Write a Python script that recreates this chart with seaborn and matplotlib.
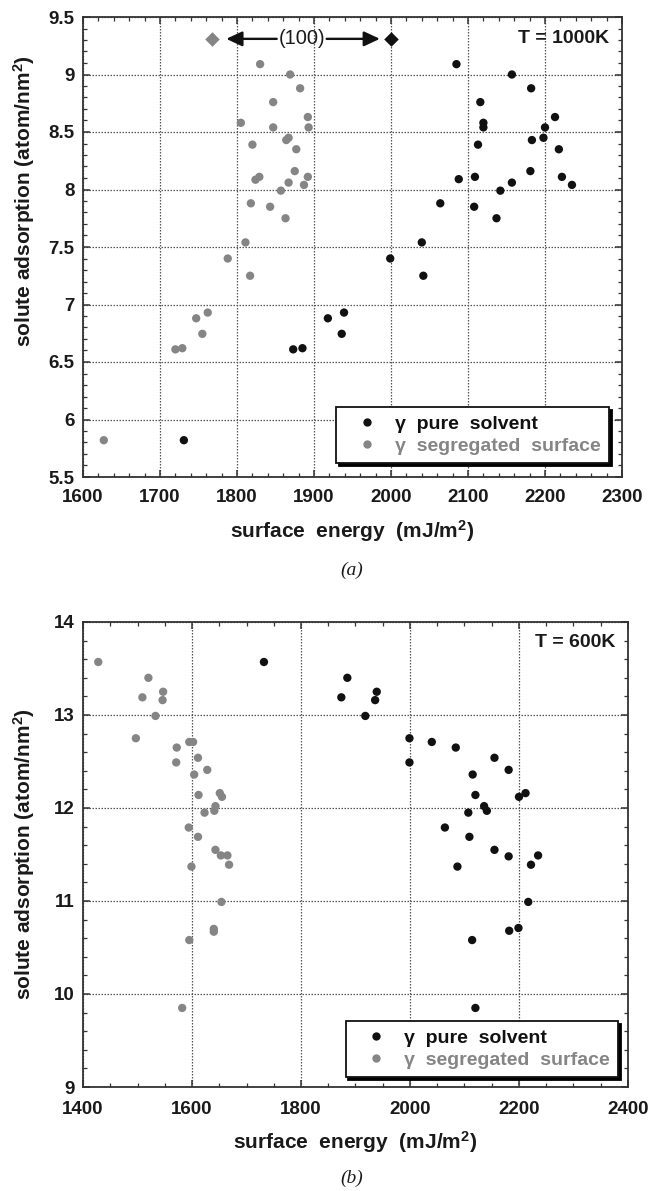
import numpy as np
import pandas as pd
import matplotlib
matplotlib.use("Agg")
import matplotlib.pyplot as plt
import seaborn as sns
from matplotlib.ticker import MultipleLocator, FormatStrFormatter

# ---------------- data ----------------
# panel (a) T = 1000K
a_gray_x = [1830, 1869, 1882, 1847, 1892, 1805, 1847, 1893, 1820, 1864, 1867, 1877, 1875, 1824, 1829,
            1892, 1867, 1887, 1857, 1818, 1843, 1863, 1811, 1788, 1817, 1747, 1762, 1755, 1720, 1729, 1627]
a_gray_y = [9.09, 9.00, 8.88, 8.76, 8.63, 8.58, 8.54, 8.54, 8.39, 8.43, 8.45, 8.35, 8.16, 8.085, 8.11,
            8.11, 8.06, 8.04, 7.99, 7.88, 7.85, 7.75, 7.54, 7.40, 7.25, 6.88, 6.93, 6.745, 6.61, 6.62, 5.82]
a_black_x = [2085, 2157, 2182, 2116, 2213, 2120, 2120, 2200, 2198, 2183, 2113, 2218, 2181, 2088, 2109,
             2222, 2157, 2235, 2142, 2064, 2108, 2137, 2040, 1999, 2042, 1918, 1939, 1936, 1873, 1885, 1731]
a_black_y = [9.09, 9.00, 8.88, 8.76, 8.63, 8.58, 8.54, 8.54, 8.45, 8.43, 8.39, 8.35, 8.16, 8.09, 8.11,
             8.11, 8.06, 8.04, 7.99, 7.88, 7.85, 7.75, 7.54, 7.40, 7.25, 6.88, 6.93, 6.745, 6.61, 6.62, 5.82]
# (100) orientation markers
a_diam_gray = (1768, 9.31)
a_diam_black = (2000, 9.31)

# panel (b) T = 600K
b_gray_x = [1428, 1520, 1547, 1509, 1546, 1533, 1497, 1595, 1602, 1572, 1611, 1571, 1628, 1604, 1651,
            1655, 1612, 1643, 1641, 1623, 1594, 1611, 1643, 1653, 1665, 1668, 1599, 1654, 1640, 1640, 1595, 1582]
b_gray_y = [13.57, 13.40, 13.25, 13.19, 13.16, 12.99, 12.75, 12.71, 12.71, 12.65, 12.54, 12.49, 12.41, 12.36, 12.16,
            12.12, 12.14, 12.02, 11.97, 11.95, 11.79, 11.69, 11.55, 11.49, 11.49, 11.39, 11.37, 10.99, 10.70, 10.67, 10.58, 9.85]
b_black_x = [1732, 1885, 1939, 1936, 1874, 1918, 1999, 2040, 2084, 2155, 1999, 2181, 2115, 2200, 2212,
             2120, 2136, 2141, 2107, 2064, 2109, 2155, 2181, 2235, 2222, 2087, 2217, 2182, 2199, 2114, 2120]
b_black_y = [13.57, 13.40, 13.25, 13.16, 13.19, 12.99, 12.75, 12.71, 12.65, 12.54, 12.49, 12.41, 12.36, 12.12, 12.16,
             12.14, 12.02, 11.97, 11.95, 11.79, 11.69, 11.55, 11.48, 11.49, 11.39, 11.37, 10.99, 10.68, 10.71, 10.58, 9.85]

series_labels = ["γ  pure  solvent", "γ  segregated  surface"]
xlabel = "surface  energy  (mJ/m$^2$)"
ylabel = "solute adsorption (atom/nm$^2$)"

# ---------------- style ----------------
sns.set_theme(style="ticks")
plt.rcParams["font.family"] = ["Liberation Sans", "DejaVu Sans"]
plt.rcParams["mathtext.fontset"] = "custom"
plt.rcParams["mathtext.rm"] = "Liberation Sans:bold"
plt.rcParams["mathtext.it"] = "Liberation Sans:bold"
plt.rcParams["mathtext.bf"] = "Liberation Sans:bold"

BLACK = "#111111"
GRAY = "#858585"
palette = {series_labels[0]: BLACK, series_labels[1]: GRAY}

fig = plt.figure(figsize=(6.58, 11.91), dpi=100)
fig.patch.set_facecolor("white")
ax1 = fig.add_axes([83 / 658, 1 - 477 / 1191, 539 / 658, 460 / 1191])
ax2 = fig.add_axes([83 / 658, 1 - 1087 / 1191, 545 / 658, 465 / 1191])


def make_df(bx, by, gx, gy):
    return pd.DataFrame({
        "energy": list(bx) + list(gx),
        "ads": list(by) + list(gy),
        "series": [series_labels[0]] * len(bx) + [series_labels[1]] * len(gx),
    })


def style_axis(ax, xlim, ylim, xmaj, xmin, ymaj, ymin, yfmt, xpad, ypad):
    ax.set_xlim(*xlim)
    ax.set_ylim(*ylim)
    ax.xaxis.set_major_locator(MultipleLocator(xmaj))
    ax.xaxis.set_minor_locator(MultipleLocator(xmin))
    ax.yaxis.set_major_locator(MultipleLocator(ymaj))
    ax.yaxis.set_minor_locator(MultipleLocator(ymin))
    ax.yaxis.set_major_formatter(FormatStrFormatter(yfmt))
    ax.tick_params(which="both", direction="in", top=True, right=True, colors="#333333",
                   labelcolor="#1a1a1a", labelsize=13.5)
    ax.tick_params(axis="x", which="major", length=5, width=1.1, pad=xpad)
    ax.tick_params(axis="y", which="major", length=5, width=1.1, pad=ypad)
    ax.tick_params(which="minor", length=3, width=0.9)
    for lab in ax.get_xticklabels() + ax.get_yticklabels():
        lab.set_fontweight("bold")
    for sp in ax.spines.values():
        sp.set_linewidth(1.3)
        sp.set_color("#333333")
    ax.grid(True, which="major", linestyle=(0, (1.2, 1.2)), color="#555555", linewidth=0.9)
    ax.set_axisbelow(True)
    ax.set_facecolor("white")


def add_legend(ax, anchor):
    h, l = ax.get_legend_handles_labels()
    leg = ax.legend(h, l, loc="lower right", bbox_to_anchor=anchor, borderaxespad=0,
                    frameon=True, fancybox=False, shadow={"color": "black", "alpha": 1.0},
                    prop={"weight": "bold", "size": 14}, labelcolor=[BLACK, GRAY],
                    handlelength=2.3, handletextpad=0.3, borderpad=0.42, labelspacing=0.22,
                    markerscale=1.0)
    leg.get_frame().set_edgecolor("#111111")
    leg.get_frame().set_linewidth(1.3)
    return leg


# ---------------- panel (a) ----------------
dfa = make_df(a_black_x, a_black_y, a_gray_x, a_gray_y)
sns.scatterplot(data=dfa, x="energy", y="ads", hue="series", palette=palette,
                hue_order=series_labels, s=36, linewidth=0, ax=ax1)
sns.scatterplot(x=[a_diam_gray[0]], y=[a_diam_gray[1]], color=GRAY, marker="D", s=55,
                linewidth=0, ax=ax1, legend=False)
sns.scatterplot(x=[a_diam_black[0]], y=[a_diam_black[1]], color=BLACK, marker="D", s=55,
                linewidth=0, ax=ax1, legend=False)
style_axis(ax1, (1600, 2300), (5.5, 9.5), 100, 20, 0.5, 0.1, "%g", 9, 6)
mid = (a_diam_gray[0] + a_diam_black[0]) / 2
ax1.text(mid, a_diam_gray[1], "(100)", ha="center", va="center", fontsize=14.5, color="#1a1a1a")
arrow_style = "-|>,head_length=0.6,head_width=0.28"
ax1.annotate("", xy=a_diam_gray, xytext=(mid, a_diam_gray[1]),
             arrowprops=dict(arrowstyle=arrow_style, color="#111111", lw=1.7,
                             shrinkA=18, shrinkB=10, mutation_scale=16))
ax1.annotate("", xy=a_diam_black, xytext=(mid, a_diam_black[1]),
             arrowprops=dict(arrowstyle=arrow_style, color="#111111", lw=1.7,
                             shrinkA=18, shrinkB=8, mutation_scale=16))
ax1.text(0.976, 0.953, "T = 1000K", transform=ax1.transAxes, ha="right", va="center",
         fontsize=14, fontweight="bold", color="#1a1a1a")
ax1.set_xlabel(xlabel, fontsize=15, fontweight="bold", color="#1a1a1a", labelpad=8)
ax1.set_ylabel(ylabel, fontsize=15, fontweight="bold", color="#1a1a1a")
ax1.yaxis.set_label_coords(-0.085, 0.60)
add_legend(ax1, (0.976, 0.030))
fig.text(352 / 658, 1 - 570 / 1191, "(a)", ha="center", va="center", fontsize=14,
         family="Liberation Serif", style="italic", color="#1a1a1a")

# ---------------- panel (b) ----------------
dfb = make_df(b_black_x, b_black_y, b_gray_x, b_gray_y)
sns.scatterplot(data=dfb, x="energy", y="ads", hue="series", palette=palette,
                hue_order=series_labels, s=36, linewidth=0, ax=ax2)
style_axis(ax2, (1400, 2400), (9, 14), 200, 50, 1, 0.2, "%g", 10, 6)
ax2.text(0.976, 0.955, "T = 600K", transform=ax2.transAxes, ha="right", va="center",
         fontsize=14, fontweight="bold", color="#1a1a1a")
ax2.set_xlabel(xlabel, fontsize=15, fontweight="bold", color="#1a1a1a", labelpad=8)
ax2.set_ylabel(ylabel, fontsize=15, fontweight="bold", color="#1a1a1a")
ax2.yaxis.set_label_coords(-0.084, 0.50)
add_legend(ax2, (0.982, 0.0215))
fig.text(352 / 658, 1 - 1178 / 1191, "(b)", ha="center", va="center", fontsize=14,
         family="Liberation Serif", style="italic", color="#1a1a1a")

fig.savefig("out.png", dpi=100, facecolor="white")
